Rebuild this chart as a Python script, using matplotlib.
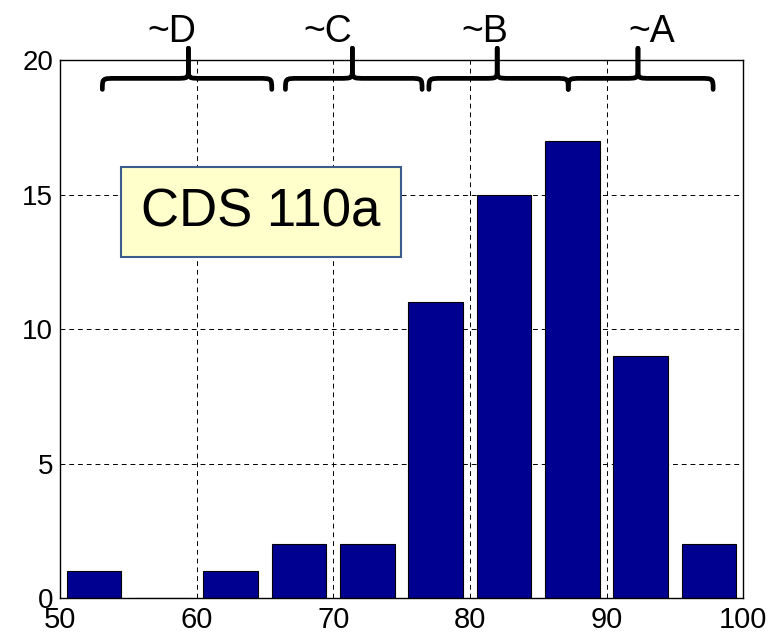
import matplotlib.pyplot as plt
from matplotlib.path import Path
from matplotlib.patches import PathPatch

plt.rcParams['font.family'] = ['Liberation Sans', 'DejaVu Sans']

# histogram data (bin centres and counts)
centros = [52.5, 57.5, 62.5, 67.5, 72.5, 77.5, 82.5, 87.5, 92.5, 97.5]
contagem = [1, 0, 1, 2, 2, 11, 15, 17, 9, 2]

# grade brackets: (start, end, tip) and labels
notas = ['~D', '~C', '~B', '~A']
chaves = [(53.1, 65.5, 59.4), (66.5, 76.5, 71.4), (77.0, 87.2, 82.0), (87.2, 97.8, 92.3)]
pos_notas = [58.2, 69.6, 81.1, 93.3]


def desenha_chave(ax, x0, x1, xm, y_ponta=18.92, y_base=19.33, y_topo=20.45, rx=1.0, ry=0.35):
    for xa, sinal in [(x0, 1), (x1, -1)]:
        verts = [(xa, y_ponta), (xa, y_base), (xa, y_base), (xa + sinal * rx, y_base),
                 (xm - sinal * rx, y_base),
                 (xm, y_base), (xm, y_base), (xm, y_base + ry),
                 (xm, y_topo)]
        codes = [Path.MOVETO, Path.CURVE4, Path.CURVE4, Path.CURVE4,
                 Path.LINETO,
                 Path.CURVE4, Path.CURVE4, Path.CURVE4,
                 Path.LINETO]
        p = PathPatch(Path(verts, codes), fill=False, lw=3.4, color='black',
                      clip_on=False, capstyle='round', joinstyle='round')
        ax.add_patch(p)


fig = plt.figure(figsize=(7.79, 6.34), dpi=100)
ax = fig.add_axes([0.077, 0.0568, 0.877, 0.848])

ax.bar(centros, contagem, width=4, color='#000090', edgecolor='black', linewidth=0.8, zorder=3)

ax.set_xlim(50, 100)
ax.set_ylim(0, 20)
ax.set_xticks([50, 60, 70, 80, 90, 100])
ax.set_yticks([0, 5, 10, 15, 20])
ax.tick_params(axis='x', labelsize=21, pad=6, direction='in', length=0)
ax.tick_params(axis='y', labelsize=20, pad=5, direction='in', length=0)
ax.grid(True, color='black', linestyle=(0, (5, 4)), linewidth=0.7, zorder=0)
for s in ax.spines.values():
    s.set_linewidth(1.0)
    s.set_zorder(4)

for (x0, x1, xm) in chaves:
    desenha_chave(ax, x0, x1, xm)
for n, x in zip(notas, pos_notas):
    ax.text(x, 20.67, n, fontsize=27, ha='center', va='baseline', clip_on=False)

ax.text(64.7, 14.35, 'CDS 110a', fontsize=38, ha='center', va='center', zorder=5,
        bbox=dict(boxstyle='square,pad=0.38', facecolor='#FFFFCC', edgecolor='#3B5C8C', linewidth=1.5))

fig.savefig('out.png', dpi=100)
